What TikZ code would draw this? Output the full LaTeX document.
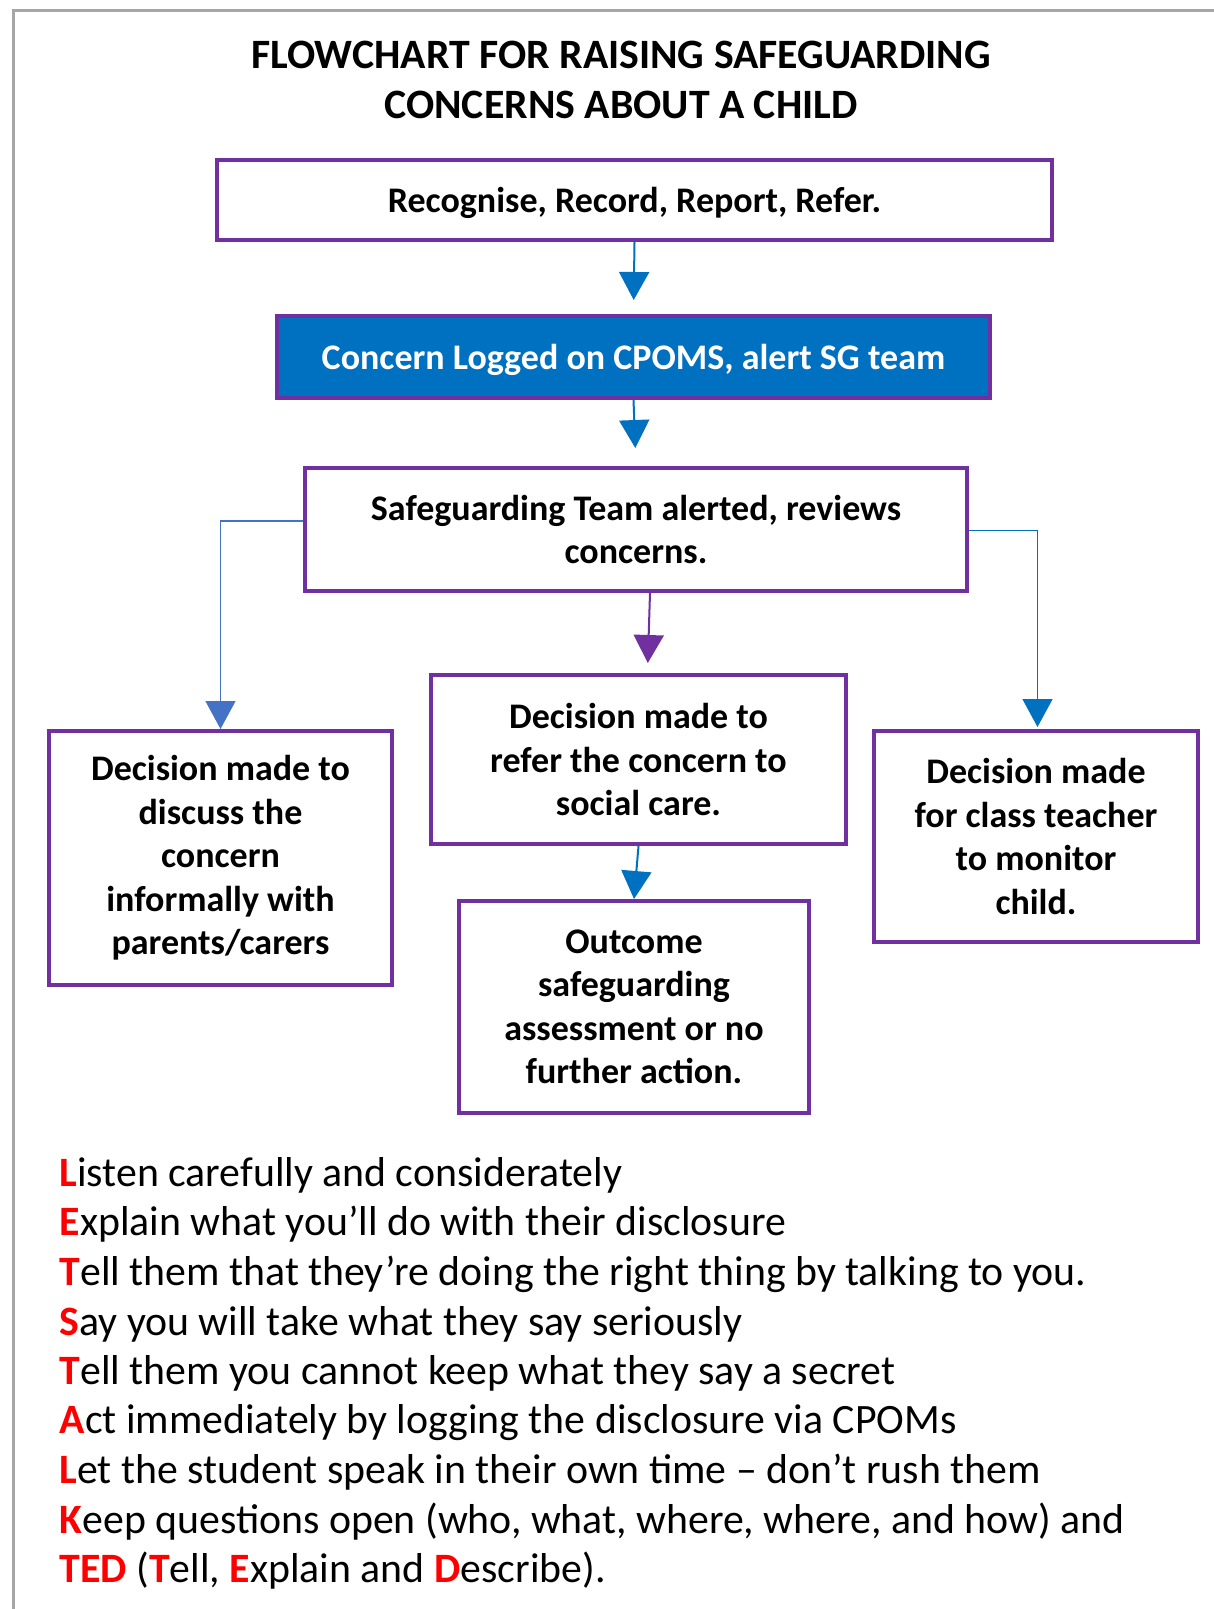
\documentclass[tikz,border=0pt]{standalone}
\usepackage{fontspec}
\setmainfont{Carlito}
\usetikzlibrary{arrows.meta}
\definecolor{ppl}{HTML}{7030A0}
\definecolor{cblue}{HTML}{0070C0}
\definecolor{lblue}{HTML}{4472C4}
\definecolor{frame}{HTML}{A6A6A6}
\definecolor{tred}{HTML}{FF0000}
\newcommand\redl[1]{\textcolor{tred}{\textbf{#1}}}
\begin{document}
\begin{tikzpicture}[x=1pt,y=-1pt,
  boxst/.style={draw=ppl, line width=4pt, align=center, inner sep=0pt, font=\fontsize{36}{43.5}\selectfont\bfseries},
  arr/.style={line width=2pt, -{Triangle[width=30pt,length=28pt]}},
  body/.style={anchor=base west, inner sep=0pt, font=\fontsize{41.8}{49.5}\selectfont}]
\useasboundingbox (0,0) rectangle (1214,1609);
\draw[frame, line width=3pt] (13,1609) -- (13,10) -- (1214,10);

\node[align=center, inner sep=0pt, font=\fontsize{41.8}{50}\selectfont\bfseries] (title) at (621,79.5)
  {FLOWCHART FOR RAISING SAFEGUARDING\\CONCERNS ABOUT A CHILD};

\node[boxst, text depth=0pt, minimum width=835pt, minimum height=80pt] (b1) at (634.5,200) {Recognise, Record, Report, Refer.};
\node[boxst, text depth=0pt, fill=cblue, text=white, minimum width=713pt, minimum height=82pt] (b2) at (633.5,357) {Concern Logged on CPOMS, alert SG team};
\node[boxst, minimum width=662pt, minimum height=123pt] (b3) at (636,529.5) {Safeguarding Team alerted, reviews\\concerns.};
\node[boxst, minimum width=415pt, minimum height=169pt] (m) at (638.5,759.5) {Decision made to\\refer the concern to\\social care.};
\node[boxst, minimum width=343pt, minimum height=254pt] (l) at (220.5,858) {Decision made to\\discuss the\\concern\\informally with\\parents/carers};
\node[boxst, minimum width=324pt, minimum height=211pt] (r) at (1036,836.5) {Decision made\\for class teacher\\to monitor\\child.};
\node[boxst, minimum width=350pt, minimum height=212pt] (bt) at (634,1007) {Outcome\\safeguarding\\assessment or no\\further action.};

\draw[arr, cblue, shorten >=14pt] (b1.south) -- (b2.north);
\draw[arr, cblue, shorten >=18pt] (b2.south) -- (b3.north);
\draw[arr, ppl, shorten >=10pt] ([xshift=14pt]b3.south) -- ([xshift=9pt]m.north);
\draw[arr, lblue, line width=1.5pt] ([yshift=8.5pt]b3.west) -| (l.north);
\draw[arr, cblue, line width=1.5pt, shorten >=2pt] ([yshift=-1pt]b3.east) -| ([xshift=1.5pt]r.north);
\draw[arr, cblue] (m.south) -- (bt.north);

\node[body] (t1) at (59.5,1186) {\redl{L}isten carefully and considerately};
\node[body] (t2) at (59.5,1235) {\redl{E}xplain what you’ll do with their disclosure};
\node[body] (t3) at (59.5,1285) {\redl{T}ell them that they’re doing the right thing by talking to you.};
\node[body] (t4) at (59.5,1335) {\redl{S}ay you will take what they say seriously};
\node[body] (t5) at (59.5,1384) {\redl{T}ell them you cannot keep what they say a secret};
\node[body] (t6) at (59.5,1433) {\redl{A}ct immediately by logging the disclosure via CPOMs};
\node[body] (t7) at (59.5,1483) {\redl{L}et the student speak in their own time – don’t rush them};
\node[body] (t8) at (59.5,1533) {\redl{K}eep questions open (who, what, where, where, and how) and};
\node[body] (t9) at (59.5,1582) {\redl{TED} (\redl{T}ell, \redl{E}xplain and \redl{D}escribe).};
\end{tikzpicture}
\end{document}
